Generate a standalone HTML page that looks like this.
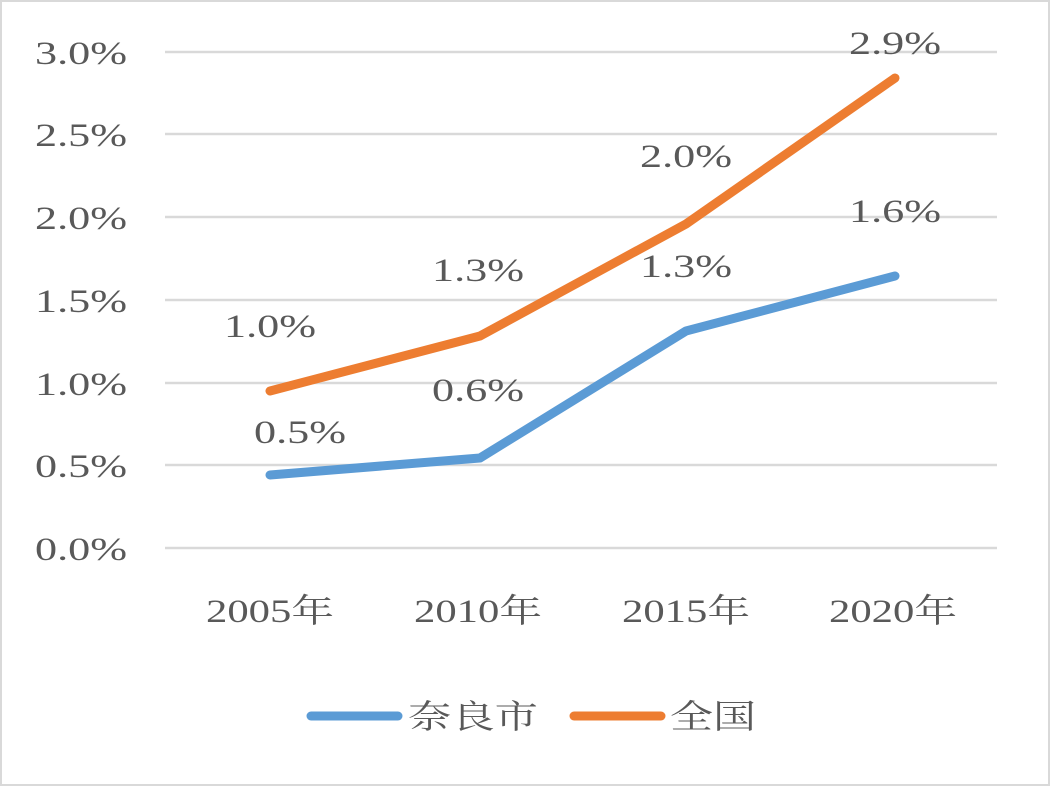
<!DOCTYPE html>
<html><head><meta charset="utf-8"><style>
body{margin:0;background:#fff;}
svg text{font-family:"Liberation Serif","Noto Serif CJK SC",serif;fill:#595959;}
</style></head><body>
<svg width="1050" height="786" xmlns="http://www.w3.org/2000/svg">
<rect x="1" y="1" width="1048" height="784" fill="#fff" stroke="#d9d9d9" stroke-width="2"/>
<g stroke="#d9d9d9" stroke-width="2.5">
<line x1="165" y1="52" x2="997" y2="52"/>
<line x1="165" y1="134" x2="997" y2="134"/>
<line x1="165" y1="217" x2="997" y2="217"/>
<line x1="165" y1="300" x2="997" y2="300"/>
<line x1="165" y1="383" x2="997" y2="383"/>
<line x1="165" y1="465" x2="997" y2="465"/>
<line x1="165" y1="548" x2="997" y2="548"/>
</g>
<g font-size="33" text-anchor="end" lengthAdjust="spacingAndGlyphs">
<text x="127" y="64" textLength="92" lengthAdjust="spacingAndGlyphs">3.0%</text>
<text x="127" y="146" textLength="92" lengthAdjust="spacingAndGlyphs">2.5%</text>
<text x="127" y="229" textLength="92" lengthAdjust="spacingAndGlyphs">2.0%</text>
<text x="127" y="312" textLength="92" lengthAdjust="spacingAndGlyphs">1.5%</text>
<text x="127" y="395" textLength="92" lengthAdjust="spacingAndGlyphs">1.0%</text>
<text x="127" y="477" textLength="92" lengthAdjust="spacingAndGlyphs">0.5%</text>
<text x="127" y="560" textLength="92" lengthAdjust="spacingAndGlyphs">0.0%</text>
</g>
<g font-size="33" text-anchor="middle">
<text x="270" y="622" textLength="128" lengthAdjust="spacingAndGlyphs">2005年</text>
<text x="478" y="622" textLength="128" lengthAdjust="spacingAndGlyphs">2010年</text>
<text x="686" y="622" textLength="128" lengthAdjust="spacingAndGlyphs">2015年</text>
<text x="893" y="622" textLength="128" lengthAdjust="spacingAndGlyphs">2020年</text>
</g>
<polyline points="270,475 480,458 686,331 895,276" fill="none" stroke="#5b9bd5" stroke-width="9" stroke-linecap="round" stroke-linejoin="round"/>
<polyline points="270,391 480,336 686,224 895,78" fill="none" stroke="#ed7d31" stroke-width="9" stroke-linecap="round" stroke-linejoin="round"/>
<g font-size="33" text-anchor="middle">
<text x="300" y="443" textLength="92" lengthAdjust="spacingAndGlyphs">0.5%</text>
<text x="478" y="401" textLength="92" lengthAdjust="spacingAndGlyphs">0.6%</text>
<text x="686" y="277" textLength="92" lengthAdjust="spacingAndGlyphs">1.3%</text>
<text x="895" y="222" textLength="92" lengthAdjust="spacingAndGlyphs">1.6%</text>
<text x="270" y="337" textLength="92" lengthAdjust="spacingAndGlyphs">1.0%</text>
<text x="478" y="281" textLength="92" lengthAdjust="spacingAndGlyphs">1.3%</text>
<text x="686" y="167" textLength="92" lengthAdjust="spacingAndGlyphs">2.0%</text>
<text x="895" y="54" textLength="92" lengthAdjust="spacingAndGlyphs">2.9%</text>
</g>
<line x1="311" y1="716" x2="398" y2="716" stroke="#5b9bd5" stroke-width="9" stroke-linecap="round"/>
<text x="408" y="728" font-size="33" textLength="130" lengthAdjust="spacingAndGlyphs">奈良市</text>
<line x1="574" y1="716" x2="661" y2="716" stroke="#ed7d31" stroke-width="9" stroke-linecap="round"/>
<text x="670" y="728" font-size="33" textLength="86" lengthAdjust="spacingAndGlyphs">全国</text>
</svg>
</body></html>
